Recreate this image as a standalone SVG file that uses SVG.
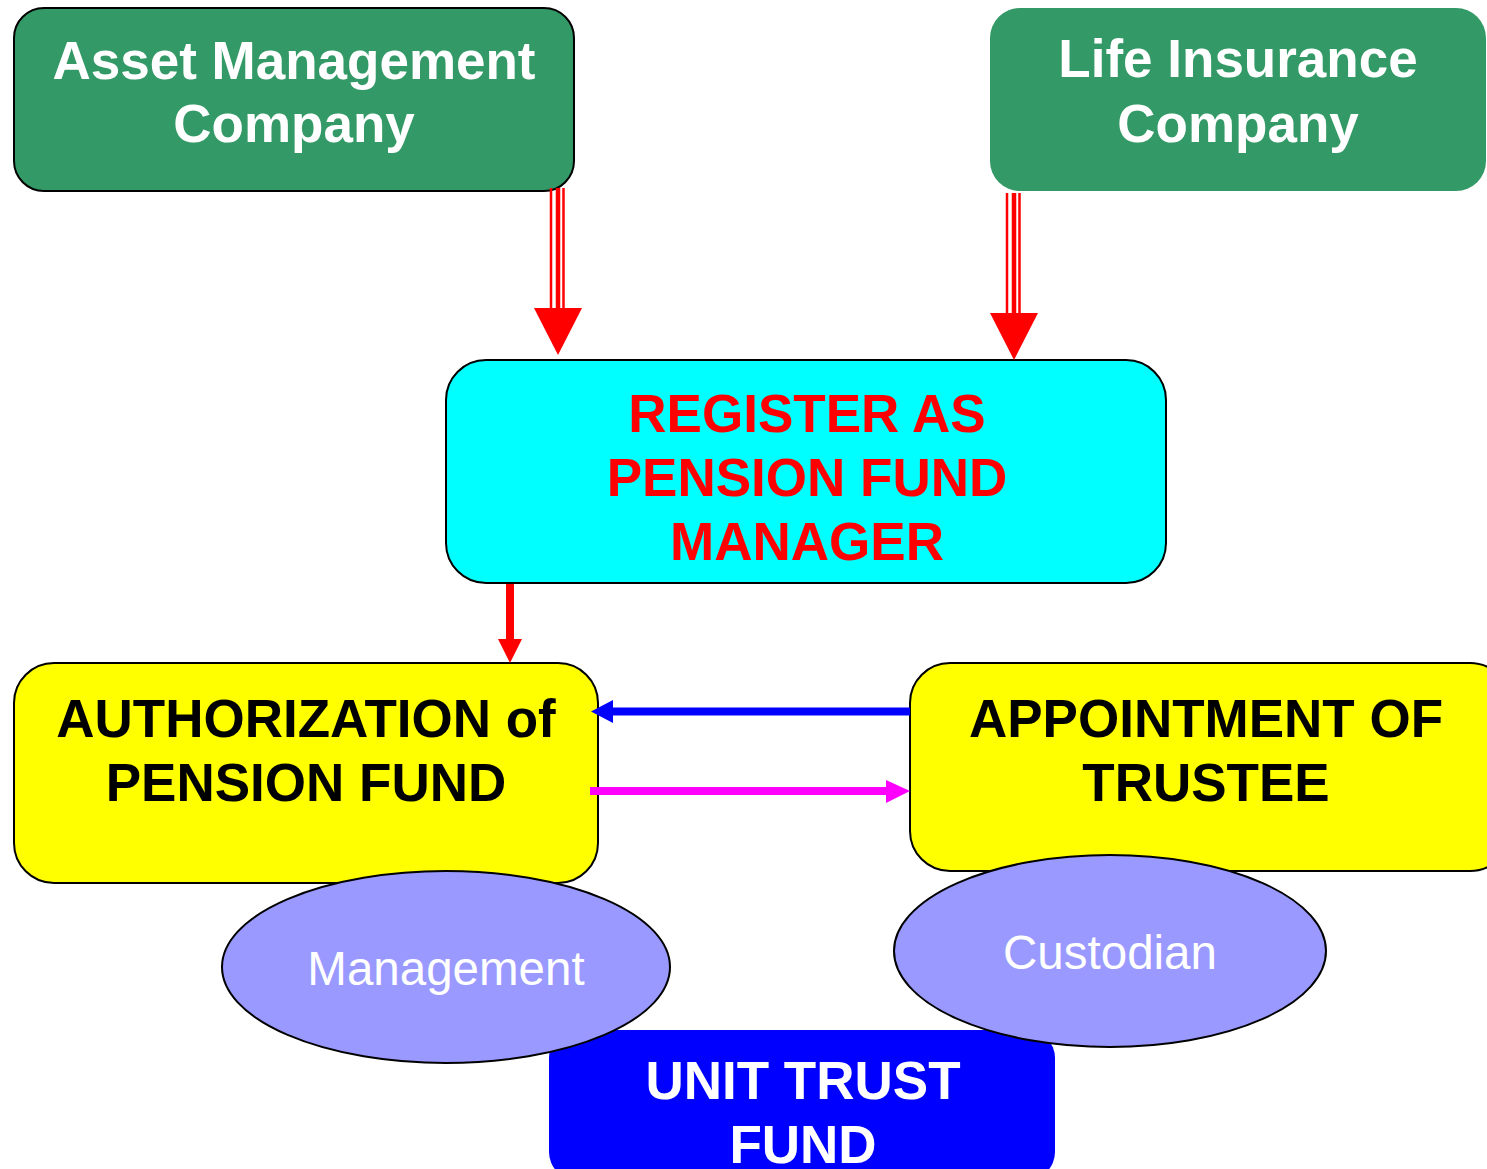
<svg xmlns="http://www.w3.org/2000/svg" xmlns:xlink="http://www.w3.org/1999/xlink" width="1487" height="1169" viewBox="0 0 1487 1169">
  <style>
    .lbl { font-family: "Liberation Sans", Arial, sans-serif; font-weight: bold; font-size: 53px; text-anchor: middle; }
    .oval-lbl { font-family: "Liberation Sans", Arial, sans-serif; font-size: 47.5px; fill: #FFFFFF; text-anchor: middle; }
    .green { fill: #339966; }
    .yellow { fill: #FFFF00; stroke: #000000; stroke-width: 2; }
    .oval { fill: #9999FF; stroke: #000000; stroke-width: 2; }
  </style>
  <defs>
    <!-- triple-shaft arrow, tip at origin -->
    <g id="triple-arrow">
      <line x1="-7" y1="-167" x2="-7" y2="-45" stroke="#FF0000" stroke-width="2.5"/>
      <line x1="0" y1="-167" x2="0" y2="-45" stroke="#FF0000" stroke-width="4.5"/>
      <line x1="5.5" y1="-167" x2="5.5" y2="-45" stroke="#FF0000" stroke-width="2.5"/>
      <polygon points="-24,-47 24,-47 0,0" fill="#FF0000"/>
    </g>
  </defs>

  <rect width="1487" height="1169" fill="#FFFFFF"/>

  <g id="asset-management">
    <rect x="14" y="8" width="560" height="183" rx="30" class="green" stroke="#000000" stroke-width="2"/>
    <text class="lbl" fill="#FFFFFF" x="294" y="79">Asset Management</text>
    <text class="lbl" fill="#FFFFFF" x="294" y="142">Company</text>
  </g>

  <g id="life-insurance">
    <rect x="990" y="8" width="496" height="183" rx="30" class="green"/>
    <text class="lbl" fill="#FFFFFF" x="1238" y="77">Life Insurance</text>
    <text class="lbl" fill="#FFFFFF" x="1238" y="142">Company</text>
  </g>

  <g id="register-pfm">
    <rect x="446" y="360" width="720" height="223" rx="40" fill="#00FFFF" stroke="#000000" stroke-width="2"/>
    <text class="lbl" fill="#FF0000" x="807" y="431.5">REGISTER AS</text>
    <text class="lbl" fill="#FF0000" x="807" y="495.5">PENSION FUND</text>
    <text class="lbl" fill="#FF0000" x="807" y="559.5">MANAGER</text>
  </g>

  <g id="authorization">
    <rect x="14" y="663" width="584" height="220" rx="40" class="yellow"/>
    <text class="lbl" fill="#000000" x="306" y="736.5">AUTHORIZATION of</text>
    <text class="lbl" fill="#000000" x="306" y="800.5">PENSION FUND</text>
  </g>

  <g id="trustee">
    <rect x="910" y="663" width="600" height="208" rx="40" class="yellow"/>
    <text class="lbl" fill="#000000" x="1206" y="736.5">APPOINTMENT OF</text>
    <text class="lbl" fill="#000000" x="1206" y="800.5">TRUSTEE</text>
  </g>

  <g id="unit-trust-fund">
    <rect x="549" y="1030" width="506" height="150" rx="28" fill="#0000FF"/>
    <text class="lbl" fill="#FFFFFF" x="803" y="1099">UNIT TRUST</text>
    <text class="lbl" fill="#FFFFFF" x="803" y="1163">FUND</text>
  </g>

  <g id="management">
    <ellipse cx="446" cy="967" rx="224" ry="96" class="oval"/>
    <text class="oval-lbl" x="446" y="985">Management</text>
  </g>

  <g id="custodian">
    <ellipse cx="1110" cy="951" rx="216" ry="96" class="oval"/>
    <text class="oval-lbl" x="1110" y="969">Custodian</text>
  </g>

  <g id="connectors">
    <use xlink:href="#triple-arrow" href="#triple-arrow" transform="translate(558,355)"/>
    <use xlink:href="#triple-arrow" href="#triple-arrow" transform="translate(1014,360)"/>
    <!-- register -> authorization -->
    <line x1="510" y1="584" x2="510" y2="641" stroke="#FF0000" stroke-width="8"/>
    <polygon points="498,639 522,639 510,663" fill="#FF0000"/>
    <!-- trustee -> authorization -->
    <line x1="910" y1="711.5" x2="610" y2="711.5" stroke="#0000FF" stroke-width="8"/>
    <polygon points="613,700 613,723 591,711.5" fill="#0000FF"/>
    <!-- authorization -> trustee -->
    <line x1="590" y1="791" x2="888" y2="791" stroke="#FF00FF" stroke-width="8"/>
    <polygon points="886,780 886,803 910,791" fill="#FF00FF"/>
  </g>
</svg>
